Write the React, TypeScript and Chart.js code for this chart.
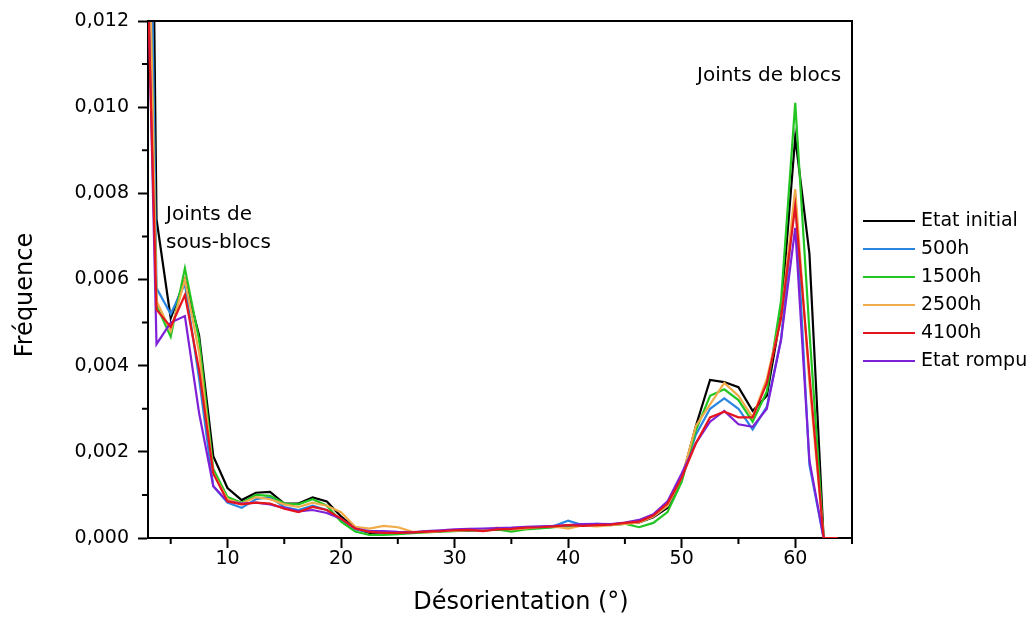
import { useEffect, useRef } from 'react';
import { Chart, registerables } from 'chart.js';

Chart.register(...registerables);

// Misorientation bins (degrees)
const misorientation = [
  2.5, 3.75, 5, 6.25, 7.5, 8.75, 10, 11.25, 12.5, 13.75, 15, 16.25, 17.5, 18.75, 20, 21.25,
  22.5, 23.75, 25, 26.25, 27.5, 28.75, 30, 31.25, 32.5, 33.75, 35, 36.25, 37.5, 38.75, 40,
  41.25, 42.5, 43.75, 45, 46.25, 47.5, 48.75, 50, 51.25, 52.5, 53.75, 55, 56.25, 57.5, 58.75,
  60, 61.25, 62.5, 63.75,
];

const etatInitial = [
  0.036, 0.0074, 0.0051, 0.006, 0.0047, 0.0019, 0.00116, 0.00088, 0.00105, 0.00107, 0.0008,
  0.0008, 0.00094, 0.00085, 0.0005, 0.00022, 0.00012, 0.0001, 0.00012, 0.00012, 0.00015,
  0.00016, 0.00018, 0.00017, 0.0002, 0.00019, 0.00021, 0.00022, 0.00024, 0.00026, 0.00028,
  0.0003, 0.0003, 0.00032, 0.00033, 0.00036, 0.00048, 0.0007, 0.00135, 0.0026, 0.00367,
  0.00362, 0.0035, 0.00295, 0.0033, 0.0052, 0.0093, 0.0066, 0.0, 0.0,
];

const h500 = [
  0.028, 0.0058, 0.0052, 0.0059, 0.0037, 0.0012, 0.00082, 0.0007, 0.0009, 0.00095, 0.00072,
  0.00065, 0.00075, 0.00065, 0.00042, 0.0002, 0.00014, 0.00012, 0.00012, 0.00013, 0.00014,
  0.00016, 0.00017, 0.00019, 0.00018, 0.00022, 0.0002, 0.00023, 0.00024, 0.00028, 0.0004,
  0.0003, 0.00033, 0.00031, 0.00034, 0.00038, 0.0005, 0.00075, 0.0014, 0.0024, 0.003,
  0.00324, 0.003, 0.00252, 0.00305, 0.0046, 0.008, 0.0017, 0.0, 0.0,
];

const h1500 = [
  0.0215, 0.0054, 0.00467, 0.00626, 0.0046, 0.0016, 0.00095, 0.00082, 0.001, 0.00098, 0.0008,
  0.00078, 0.0009, 0.00075, 0.00038, 0.00015, 0.00007, 0.00007, 0.00009, 0.00011, 0.00013,
  0.00015, 0.00016, 0.00018, 0.00017, 0.0002, 0.00015, 0.0002, 0.00022, 0.00025, 0.00027,
  0.0003, 0.00031, 0.0003, 0.00033, 0.00025, 0.00035, 0.0006, 0.0013, 0.0025, 0.0033,
  0.00345, 0.0032, 0.0027, 0.0034, 0.0055, 0.0101, 0.0048, 0.0, 0.0,
];

const h2500 = [
  0.022, 0.0055, 0.0048, 0.006, 0.0043, 0.0015, 0.0009, 0.0008, 0.00095, 0.0009, 0.00078,
  0.00072, 0.00082, 0.00075, 0.0006, 0.00026, 0.00022, 0.00028, 0.00025, 0.00015, 0.00013,
  0.00016, 0.00017, 0.00018, 0.00019, 0.00024, 0.0002, 0.00022, 0.00026, 0.00027, 0.00022,
  0.00029, 0.00027, 0.0003, 0.00033, 0.00036, 0.0005, 0.00075, 0.0014, 0.0026, 0.0031,
  0.0036, 0.0033, 0.0028, 0.0037, 0.0051, 0.0081, 0.0036, 0.0, 0.0,
];

const h4100 = [
  0.0175, 0.0053, 0.0049, 0.00564, 0.0039, 0.0015, 0.00085, 0.00078, 0.00082, 0.0008, 0.00068,
  0.0006, 0.00072, 0.00065, 0.00045, 0.00022, 0.00014, 0.00012, 0.00012, 0.00013, 0.00015,
  0.00016, 0.00018, 0.00019, 0.00016, 0.0002, 0.00021, 0.00024, 0.00025, 0.00027, 0.0003,
  0.00028, 0.0003, 0.00031, 0.00035, 0.00038, 0.00052, 0.0008, 0.0014, 0.0022, 0.0028,
  0.00293, 0.0028, 0.0028, 0.0036, 0.0051, 0.0077, 0.0038, 0.0, 0.0,
];

const etatRompu = [
  0.0185, 0.0045, 0.005, 0.00515, 0.0029, 0.0012, 0.00085, 0.0008, 0.00082, 0.00078, 0.0007,
  0.00062, 0.00065, 0.00058, 0.00045, 0.00022, 0.00016, 0.00016, 0.00014, 0.00013, 0.00016,
  0.00018, 0.0002, 0.00021, 0.00022, 0.00023, 0.00024, 0.00026, 0.00027, 0.00028, 0.0003,
  0.00032, 0.00033, 0.00032, 0.00036, 0.00042, 0.00055, 0.00085, 0.0015, 0.0022, 0.0027,
  0.00295, 0.00264, 0.00258, 0.003, 0.0046, 0.0072, 0.0018, 0.0, 0.0,
];

const seriesLabels = ['Etat initial', '500h', '1500h', '2500h', '4100h', 'Etat rompu'];
const seriesValues = [etatInitial, h500, h1500, h2500, h4100, etatRompu];

const xMajorTicks = [10, 20, 30, 40, 50, 60];
const xMinorTicks = [5, 15, 25, 35, 45, 55, 65];
const yMajorTicks = [0, 0.002, 0.004, 0.006, 0.008, 0.01, 0.012];
const yMinorTicks = [0.001, 0.003, 0.005, 0.007, 0.009, 0.011];

const xTitle = 'Désorientation (°)';
const yTitle = 'Fréquence';
const annotationSub = ['Joints de', 'sous-blocs'];
const annotationBlocs = 'Joints de blocs';

const COLORS = ['#000000', '#2a86e0', '#22c622', '#f0ac4a', '#e3151f', '#7d20d8'];
const ORDERS = [6, 5, 4, 3, 1, 2];
const FONT = '"DejaVu Sans", "Liberation Sans", Arial, sans-serif';

const decorPlugin = {
  id: 'decor',
  afterDraw(chart: any) {
    const { ctx, chartArea, scales } = chart;
    const { left, right, top, bottom } = chartArea;
    const xs = scales.x;
    const ys = scales.y;
    ctx.save();
    ctx.strokeStyle = '#000';
    ctx.lineWidth = 2;
    // frame top & right
    ctx.beginPath();
    ctx.moveTo(left - 1, top);
    ctx.lineTo(right, top);
    ctx.lineTo(right, bottom + 1);
    ctx.stroke();
    // minor ticks
    ctx.beginPath();
    xMinorTicks.forEach((v) => {
      const px = xs.getPixelForValue(v);
      ctx.moveTo(px, bottom);
      ctx.lineTo(px, bottom + 6);
    });
    yMinorTicks.forEach((v) => {
      const py = ys.getPixelForValue(v);
      ctx.moveTo(left, py);
      ctx.lineTo(left - 6, py);
    });
    ctx.stroke();

    // axis titles
    ctx.fillStyle = '#000';
    ctx.font = `24px ${FONT}`;
    ctx.textAlign = 'center';
    ctx.textBaseline = 'middle';
    ctx.fillText(xTitle, 521, 603);
    ctx.save();
    ctx.translate(26, 295);
    ctx.rotate(-Math.PI / 2);
    ctx.fillText(yTitle, 0, 0);
    ctx.restore();

    // annotations
    ctx.font = `20px ${FONT}`;
    ctx.textAlign = 'left';
    ctx.fillText(annotationSub[0], 166, 215);
    ctx.fillText(annotationSub[1], 166, 243);
    ctx.fillText(annotationBlocs, 697, 76);

    // legend
    ctx.font = `19px ${FONT}`;
    seriesLabels.forEach((label, i) => {
      const y = 221 + i * 28;
      ctx.strokeStyle = COLORS[i];
      ctx.lineWidth = 2.2;
      ctx.beginPath();
      ctx.moveTo(863, y);
      ctx.lineTo(915, y);
      ctx.stroke();
      ctx.fillStyle = '#000';
      ctx.fillText(label, 921, y);
    });
    ctx.restore();
  },
};

export default function App() {
  const canvasRef = useRef<HTMLCanvasElement | null>(null);

  useEffect(() => {
    const canvas = canvasRef.current;
    if (!canvas) return;
    const datasets = seriesLabels.map((label, i) => ({
      label,
      data: misorientation.map((x, j) => ({ x, y: seriesValues[i][j] })),
      borderColor: COLORS[i],
      backgroundColor: COLORS[i],
      borderWidth: 2.2,
      pointRadius: 0,
      tension: 0,
      fill: false,
      order: ORDERS[i],
    }));

    const chart = new Chart(canvas, {
      type: 'line',
      data: { datasets },
      options: {
        animation: false,
        responsive: false,
        maintainAspectRatio: false,
        layout: { padding: { left: 0, top: 21, right: 183, bottom: 0 } },
        plugins: {
          legend: { display: false },
          tooltip: { enabled: false },
        },
        scales: {
          x: {
            type: 'linear',
            min: 3,
            max: 65,
            afterBuildTicks: (scale: any) => {
              scale.ticks = xMajorTicks.map((v) => ({ value: v }));
            },
            afterFit: (scale: any) => {
              scale.height = 84;
            },
            ticks: {
              color: '#000',
              font: { family: FONT, size: 19 },
              padding: 0,
              maxRotation: 0,
              autoSkip: false,
              callback: (v: any) => String(v),
            },
            grid: {
              display: true,
              drawOnChartArea: false,
              drawTicks: true,
              tickLength: 10,
              tickWidth: 2,
              tickColor: '#000',
            },
            border: { display: true, color: '#000', width: 2 },
          },
          y: {
            type: 'linear',
            min: 0,
            max: 0.012,
            afterBuildTicks: (scale: any) => {
              scale.ticks = yMajorTicks.map((v) => ({ value: v }));
            },
            afterFit: (scale: any) => {
              scale.width = 148;
            },
            ticks: {
              color: '#000',
              font: { family: FONT, size: 19 },
              padding: 9,
              autoSkip: false,
              callback: (v: any) => Number(v).toFixed(3).replace('.', ','),
            },
            grid: {
              display: true,
              drawOnChartArea: false,
              drawTicks: true,
              tickLength: 10,
              tickWidth: 2,
              tickColor: '#000',
            },
            border: { display: true, color: '#000', width: 2 },
          },
        },
      },
      plugins: [decorPlugin],
    });

    return () => {
      chart.destroy();
    };
  }, []);

  return (
    <div style={{ position: 'fixed', left: 0, top: 0, width: 1035, height: 622, background: '#fff' }}>
      <canvas ref={canvasRef} width={1035} height={622} style={{ display: 'block' }} />
    </div>
  );
}
